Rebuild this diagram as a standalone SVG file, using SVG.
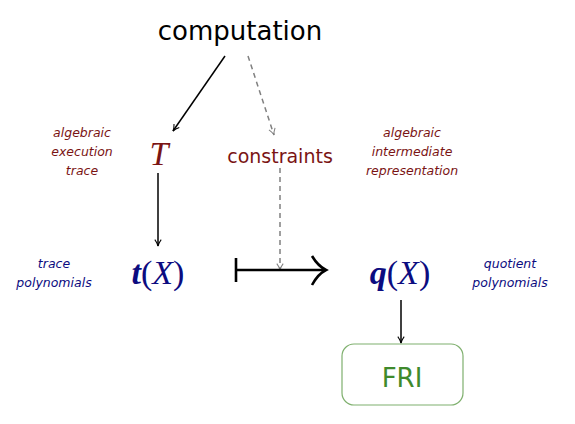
<svg xmlns="http://www.w3.org/2000/svg" width="575" height="424" viewBox="0 0 575 424">
<style>
.sans{font-family:"DejaVu Sans","Liberation Sans",sans-serif}
.lab{font-family:"DejaVu Sans","Liberation Sans",sans-serif;font-style:italic;font-size:12.5px;text-anchor:middle}
.red{fill:#7a1414}
.blue{fill:#0c0c80}
.math{font-family:"Liberation Serif","DejaVu Serif",serif;font-size:34px;text-anchor:middle}
.ln{stroke:#000;stroke-width:1.5;fill:none}
.dash{stroke:#808080;stroke-width:1.5;fill:none;stroke-dasharray:5 4}
</style>
<defs>
<marker id="ah" viewBox="0 0 10 10" refX="9" refY="5" markerWidth="8" markerHeight="8" markerUnits="userSpaceOnUse" orient="auto">
<path d="M1,1 Q5,4 9,5 Q5,6 1,9" fill="none" stroke="#000" stroke-width="1.3"/>
</marker>
<marker id="ahg" viewBox="0 0 10 10" refX="9" refY="5" markerWidth="8" markerHeight="8" markerUnits="userSpaceOnUse" orient="auto">
<path d="M1,1 Q5,4 9,5 Q5,6 1,9" fill="none" stroke="#808080" stroke-width="1.3"/>
</marker>
</defs>
<g id="computation"><text class="sans" x="240" y="40" font-size="26" text-anchor="middle" fill="#000">computation</text></g>
<g id="T"><text class="math red" x="159" y="165" font-style="italic">T</text></g>
<g id="constraints"><text class="sans red" x="280" y="163" font-size="19" text-anchor="middle">constraints</text></g>
<g id="tX"><text class="math blue" x="158" y="284"><tspan font-weight="bold" font-style="italic">t</tspan>(<tspan font-style="italic">X</tspan>)</text></g>
<g id="qX"><text class="math blue" x="400" y="284"><tspan font-weight="bold" font-style="italic">q</tspan>(<tspan font-style="italic">X</tspan>)</text></g>
<g id="FRI"><rect x="342" y="344" width="121" height="61" rx="12" fill="none" stroke="#7fb06e" stroke-width="1.2"/><text class="sans" x="402" y="387" font-size="26" text-anchor="middle" fill="#3f8a2c">FRI</text></g>
<g id="label-aet"><text class="lab red" x="82"><tspan x="82" y="137">algebraic</tspan><tspan x="82" y="156">execution</tspan><tspan x="82" y="175">trace</tspan></text></g>
<g id="label-air"><text class="lab red" x="412"><tspan x="412" y="137">algebraic</tspan><tspan x="412" y="156">intermediate</tspan><tspan x="412" y="175">representation</tspan></text></g>
<g id="label-tp"><text class="lab blue" x="54"><tspan x="54" y="268">trace</tspan><tspan x="54" y="287">polynomials</tspan></text></g>
<g id="label-qp"><text class="lab blue" x="510"><tspan x="510" y="268">quotient</tspan><tspan x="510" y="287">polynomials</tspan></text></g>
<g id="connectors">
<line class="ln" x1="225" y1="56" x2="173" y2="131" marker-end="url(#ah)"/>
<line class="dash" x1="248" y1="56" x2="274" y2="135" marker-end="url(#ahg)"/>
<line class="ln" x1="158" y1="173" x2="158" y2="246" marker-end="url(#ah)"/>
<line class="dash" x1="280" y1="168" x2="280" y2="270" marker-end="url(#ahg)"/>
<line class="ln" x1="401" y1="300" x2="401" y2="343" marker-end="url(#ah)"/>
<line x1="236" y1="258" x2="236" y2="282" stroke="#000" stroke-width="2.6"/>
<line x1="236" y1="270" x2="324" y2="270" stroke="#000" stroke-width="2.6"/>
<path d="M312,256 Q318,266 326,270 Q318,274 312,285" fill="none" stroke="#000" stroke-width="2.6"/>
</g>
</svg>
